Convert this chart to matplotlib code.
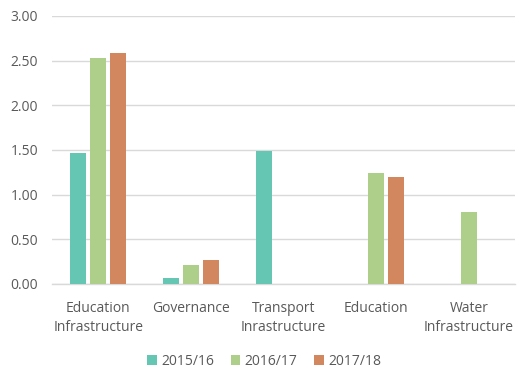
import matplotlib
matplotlib.use("Agg")
import matplotlib.pyplot as plt
import numpy as np

categories = ["Education\nInfrastructure", "Governance", "Transport\nInrastructure",
              "Education", "Water\nInfrastructure"]
series_names = ["2015/16", "2016/17", "2017/18"]
v2015 = [1.47, 0.07, 1.49, 0.0, 0.0]
v2016 = [2.53, 0.21, 0.0, 1.24, 0.80]
v2017 = [2.59, 0.27, 0.0, 1.20, 0.0]
colors = ["#65C6B3", "#ADCF8A", "#D3875F"]

plt.rcParams['font.family'] = ['Open Sans', 'DejaVu Sans']

fig = plt.figure(figsize=(5.30, 3.78), dpi=100)
ax = fig.add_axes([0.098, 0.249, 0.874, 0.709])

x = np.arange(len(categories))
width = 0.173
step = 0.216
for i, (vals, name, c) in enumerate(zip([v2015, v2016, v2017], series_names, colors)):
    ax.bar(x + (i - 1) * step, vals, width, color=c, label=name, zorder=3)

ax.set_xlim(-0.5, len(categories) - 0.5)
ax.set_ylim(0, 3.0)
ax.set_yticks(np.arange(0, 3.01, 0.5))
ax.set_yticklabels([f"{t:.2f}" for t in np.arange(0, 3.01, 0.5)])
ax.set_xticks(x)
ax.set_xticklabels(categories, linespacing=1.45)
ax.tick_params(axis='both', length=0, colors='#595959', labelsize=10)
ax.tick_params(axis='x', pad=12)
ax.tick_params(axis='y', pad=10)
ax.grid(axis='y', color='#D9D9D9', linewidth=1, zorder=0)
for s in ['top', 'right', 'left']:
    ax.spines[s].set_visible(False)
ax.spines['bottom'].set_color('#D9D9D9')
ax.spines['bottom'].set_linewidth(1)

ax.legend(loc='upper center', bbox_to_anchor=(0.458, -0.215), ncol=3, frameon=False,
          fontsize=10, handlelength=0.7, handleheight=0.7, handletextpad=0.3,
          columnspacing=1.2, labelcolor='#595959')

fig.savefig("out.png", dpi=100)
